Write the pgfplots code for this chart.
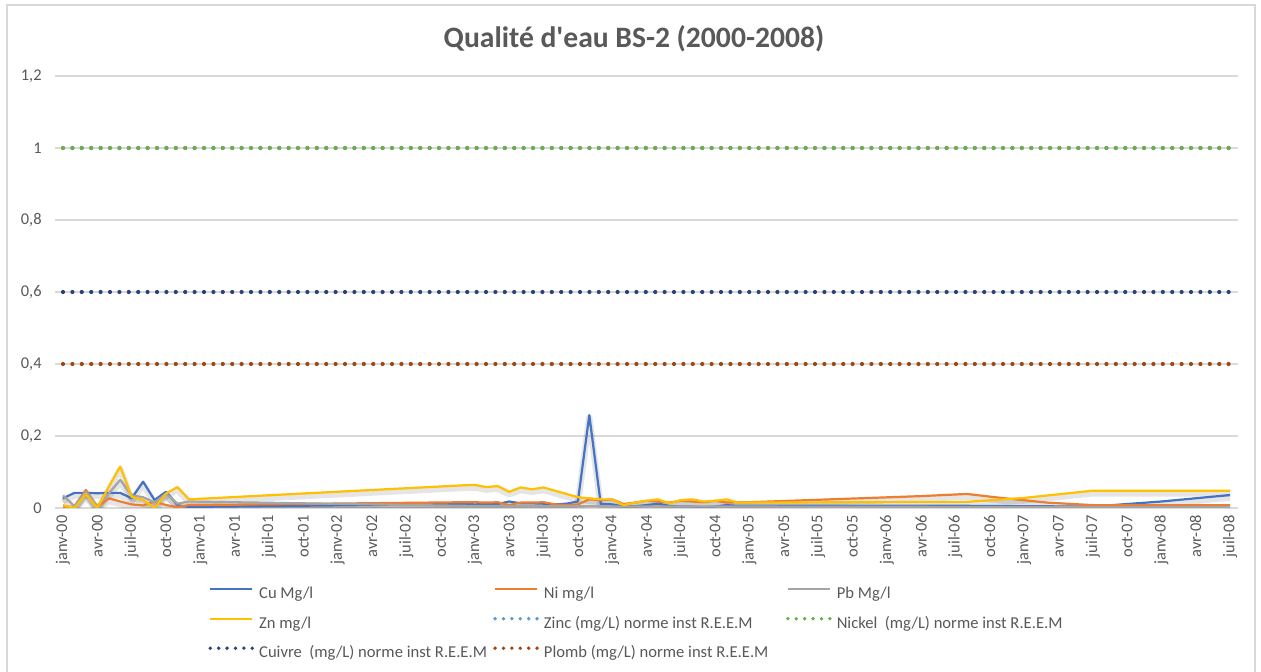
\documentclass[border=0pt]{standalone}
\usepackage{fontspec}
\setmainfont{Carlito}[Ligatures=TeXOff]
\usepackage{pgfplots}
\usepackage{pgfplotstable}
\pgfplotsset{compat=1.18}

\definecolor{cuC}{HTML}{4472C4}
\definecolor{niC}{HTML}{ED7D31}
\definecolor{pbC}{HTML}{A5A5A5}
\definecolor{znC}{HTML}{FFC000}
\definecolor{zincN}{HTML}{5B9BD5}
\definecolor{nickelN}{HTML}{70AD47}
\definecolor{cuivreN}{HTML}{264478}
\definecolor{plombN}{HTML}{9E480E}
\definecolor{txtgray}{HTML}{595959}
\definecolor{gridgray}{HTML}{D9D9D9}

% month index (0 = janv-00), value in mg/l
\pgfplotstableread{
m v
0 0.027
1 0.042
2 0.042
3 0.041
4 0.042
5 0.042
6 0.027
7 0.073
8 0.022
9 0.045
10 0.008
11 0.003
35 0.011
36 0.010
37 0.011
38 0.011
39 0.018
40 0.013
41 0.013
42 0.012
43 0.010
44 0.012
45 0.018
46 0.258
47 0.011
48 0.010
49 0.004
50 0.005
51 0.008
52 0.012
53 0.006
54 0.004
55 0.004
56 0.002
57 0.004
58 0.008
59 0.006
60 0.006
79 0.006
84 0.005
90 0.004
96 0.018
102 0.036
}\cu

\pgfplotstableread{
m v
0 0.004
1 0.003
2 0.050
3 0.002
4 0.027
5 0.018
6 0.010
7 0.007
8 0.018
9 0.008
10 0.003
11 0.008
35 0.016
36 0.016
37 0.015
38 0.016
39 0.008
40 0.015
41 0.015
42 0.016
43 0.010
44 0.008
45 0.010
46 0.024
47 0.022
48 0.024
49 0.011
50 0.015
51 0.020
52 0.018
53 0.015
54 0.020
55 0.018
56 0.016
57 0.020
58 0.015
59 0.016
60 0.016
75 0.033
79 0.039
82 0.028
86 0.015
90 0.008
102 0.008
}\ni

\pgfplotstableread{
m v
0 0.035
1 0.005
2 0.045
3 0.005
4 0.040
5 0.078
6 0.035
7 0.030
8 0.015
9 0.040
10 0.012
11 0.018
35 0.006
40 0.005
45 0.005
50 0.004
55 0.004
60 0.004
79 0.003
90 0.003
102 0.003
}\pb

\pgfplotstableread{
m v
0 0.008
1 0.000
2 0.038
3 0.000
4 0.058
5 0.115
6 0.031
7 0.022
8 0.000
9 0.040
10 0.058
11 0.024
35 0.063
36 0.064
37 0.058
38 0.061
39 0.045
40 0.057
41 0.052
42 0.057
43 0.048
44 0.039
45 0.030
46 0.027
47 0.024
48 0.024
49 0.008
50 0.015
51 0.020
52 0.024
53 0.013
54 0.022
55 0.024
56 0.018
57 0.020
58 0.024
59 0.015
60 0.015
79 0.017
84 0.028
90 0.048
102 0.048
}\zn

\newcommand{\lw}[1]{\makebox[116pt][l]{#1}}

\begin{document}
\begin{tikzpicture}
\useasboundingbox (0,0) rectangle (630.5pt,336pt);
\fill[white] (0,0) rectangle (630.5pt,336pt);
\draw[gridgray, line width=0.75pt] (3.5pt,-5pt) rectangle (627.5pt,333.5pt);
\begin{axis}[
  at={(27.5pt,82pt)}, anchor=south west,
  scale only axis, width=591.5pt, height=216pt,
  xmin=-0.7, xmax=102.7, ymin=0, ymax=1.2,
  axis line style={draw=none},
  major tick length=0pt,
  ymajorgrids, grid style={gridgray, line width=0.75pt},
  ytick={0,0.2,0.4,0.6,0.8,1,1.2},
  /pgf/number format/.cd, use comma, fixed, precision=1, assume math mode=true,
  /pgfplots/.cd,
  xtick={0,3,...,102},
  xticklabels={janv-00,avr-00,juil-00,oct-00,janv-01,avr-01,juil-01,oct-01,
    janv-02,avr-02,juil-02,oct-02,janv-03,avr-03,juil-03,oct-03,
    janv-04,avr-04,juil-04,oct-04,janv-05,avr-05,juil-05,oct-05,
    janv-06,avr-06,juil-06,oct-06,janv-07,avr-07,juil-07,oct-07,
    janv-08,avr-08,juil-08},
  ticklabel style={font=\fontsize{8.2}{9}\selectfont, text=txtgray},
  xticklabel style={rotate=90, anchor=east, inner sep=0pt},
  xticklabel shift=3.5pt,
  yticklabel style={anchor=east, inner sep=0pt},
  yticklabel shift=6.5pt,
  title={Qualité d'eau BS-2 (2000-2008)},
  title style={font=\fontsize{14.8}{17}\selectfont\bfseries, text=txtgray,
    at={(axis description cs:0.4894,1)}, anchor=center, yshift=12.5pt},
  legend columns=3,
  legend image code/.code={\draw[#1] (0pt,2.7pt) -- (21pt,2.7pt);},
  legend style={at={(axis description cs:0.1293,-0.1769)}, anchor=north west,
    draw=none, fill=none, inner sep=0pt,
    font=\fontsize{8.3}{10}\selectfont, text=txtgray,
    row sep=4.95pt,
    nodes={inner sep=1pt, text height=6pt, text depth=1.8pt},
    /tikz/every odd column/.append style={column sep=1.5pt},
    /tikz/column 4/.append style={column sep=4pt}},
  every axis plot/.append style={line join=round},
  data/.style={line width=1.1pt, legend image post style={line width=0.85pt}},
  shadow/.style={draw=black, opacity=0.1, line width=3.2pt, yshift=-1.3pt, forget plot},
  norm/.style={line width=2.1pt, line cap=round, dash pattern=on 0pt off 4.7pt,
    legend image post style={line width=1.9pt, dash pattern=on 0pt off 4.2pt}},
]
% soft shadows under the measured series
\addplot[shadow] table[x=m, y=v] {\cu};
\addplot[shadow] table[x=m, y=v] {\ni};
\addplot[shadow] table[x=m, y=v] {\pb};
\addplot[shadow] table[x=m, y=v] {\zn};
% measured series
\addplot[cuC, data] table[x=m, y=v] {\cu};
\addplot[niC, data] table[x=m, y=v] {\ni};
\addplot[pbC, data] table[x=m, y=v] {\pb};
\addplot[znC, data] table[x=m, y=v] {\zn};
% norms
\addplot[zincN, norm] coordinates {(0,1) (102,1)};
\addplot[nickelN, norm] coordinates {(0,1) (102,1)};
\addplot[cuivreN, norm] coordinates {(0,0.6) (102,0.6)};
\addplot[plombN, norm] coordinates {(0,0.4) (102,0.4)};
\legend{\lw{Cu Mg/l},\lw{Ni mg/l},\lw{Pb Mg/l},\lw{Zn mg/l},
  \lw{Zinc (mg/L) norme inst R.E.E.M},\lw{Nickel\ \ (mg/L) norme inst R.E.E.M},
  \lw{Cuivre\ \ (mg/L) norme inst R.E.E.M},\lw{Plomb (mg/L) norme inst R.E.E.M}}
\end{axis}
\end{tikzpicture}
\end{document}
